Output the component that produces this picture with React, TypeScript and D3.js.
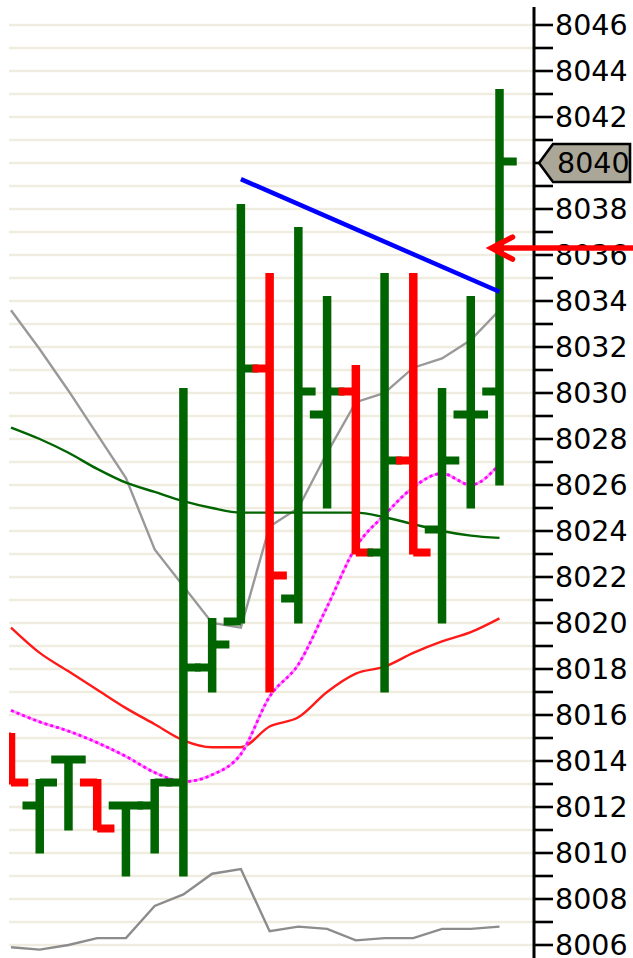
import React from "react";
import * as d3 from "d3";

// OHLC bars, left to right
const opens = [8015, 8012, 8014, 8013, 8012, 8012, 8013, 8018, 8020, 8031, 8021, 8029, 8030, 8023, 8027, 8024, 8029, 8030];
const highs = [8015, 8013, 8014, 8013, 8012, 8013, 8030, 8020, 8038, 8035, 8037, 8034, 8031, 8035, 8035, 8030, 8034, 8043];
const lows = [8013, 8010, 8011, 8011, 8009, 8010, 8009, 8017, 8020, 8017, 8020, 8025, 8023, 8017, 8023, 8020, 8025, 8026];
const closes = [8013, 8013, 8014, 8011, 8012, 8013, 8018, 8019, 8031, 8022, 8030, 8030, 8023, 8027, 8023, 8027, 8029, 8040];

// indicator lines, one value per bar
const grayLine = [8033.6, 8031.9, 8030.1, 8028.2, 8026.3, 8023.2, 8021.6, 8020.0, 8019.8, 8024.2, 8025.0, 8027.4, 8029.6, 8030.0, 8031.1, 8031.5, 8032.3, 8033.6];
const greenLine = [8028.5, 8028.0, 8027.4, 8026.7, 8026.1, 8025.7, 8025.3, 8025.0, 8024.8, 8024.8, 8024.8, 8024.8, 8024.8, 8024.6, 8024.3, 8024.0, 8023.8, 8023.7];
const redLine = [8019.8, 8018.7, 8017.9, 8017.1, 8016.3, 8015.6, 8014.9, 8014.6, 8014.6, 8015.5, 8015.9, 8017.0, 8017.8, 8018.1, 8018.7, 8019.2, 8019.6, 8020.2];
const magentaLine = [8016.2, 8015.7, 8015.3, 8014.8, 8014.2, 8013.5, 8013.1, 8013.4, 8014.3, 8016.8, 8018.2, 8020.7, 8023.3, 8024.7, 8025.9, 8026.5, 8026.0, 8026.9];
const lowerGray = [8005.9, 8005.8, 8006.0, 8006.3, 8006.3, 8007.7, 8008.2, 8009.1, 8009.3, 8006.6, 8006.8, 8006.7, 8006.2, 8006.3, 8006.3, 8006.7, 8006.7, 8006.8];

// drawn trendline (bar index, price) and the arrow level
const trendIdx = [8, 17];
const trendVal = [8039.3, 8034.4];
const arrowLevel = 8036.3;

const W = 633;
const H = 958;
const plotLeft = 9;
const axisX = 534;
const fontSize = 28.5;

const x = d3.scaleLinear().domain([0, closes.length - 1]).range([11, 499.5]);
const y = d3.scaleLinear().domain([8006, 8046]).range([945, 25]);

const GREEN = "#006400";
const RED = "#ff0000";

const mkLine = (curve: d3.CurveFactory) =>
  d3.line<number>().x((_, i) => x(i)).y(d => y(d)).curve(curve);

const App = () => {
  const allTicks = d3.range(8006, 8047);
  const half = 4.25;
  const tickLen = 13;
  const last = closes[closes.length - 1];
  const ly = y(last);
  const ay = y(arrowLevel);
  const tipX = x(closes.length - 1) - 8;

  return (
    <svg width={W} height={H} style={{ position: "absolute", left: 0, top: 0, display: "block", background: "#fff" }}
      fontFamily="'DejaVu Sans', Verdana, sans-serif">
      <defs>
        <clipPath id="plot">
          <rect x={plotLeft} y={0} width={axisX - plotLeft} height={H} />
        </clipPath>
      </defs>

      {/* grid */}
      <g stroke="#f0ede0" strokeWidth={2.6}>
        {allTicks.map(t => (
          <line key={t} x1={plotLeft} x2={axisX} y1={y(t)} y2={y(t)} />
        ))}
      </g>

      <g clipPath="url(#plot)">
        {/* indicator lines */}
        <path d={mkLine(d3.curveLinear)(lowerGray) ?? ""} fill="none" stroke="#8c8c8c" strokeWidth={2.4} />
        <path d={mkLine(d3.curveLinear)(grayLine) ?? ""} fill="none" stroke="#999" strokeWidth={2.4} />
        <path d={mkLine(d3.curveMonotoneX)(greenLine) ?? ""} fill="none" stroke={GREEN} strokeWidth={2.4} />
        <path d={mkLine(d3.curveMonotoneX)(redLine) ?? ""} fill="none" stroke="#ff1a1a" strokeWidth={2.4} />
        <path d={mkLine(d3.curveMonotoneX)(magentaLine) ?? ""} fill="none" stroke="#ff9cff" strokeWidth={2.8} />
        <path d={mkLine(d3.curveMonotoneX)(magentaLine) ?? ""} fill="none" stroke="#ff00ff" strokeWidth={2.8} strokeDasharray="3 3" />

        {/* OHLC bars */}
        {closes.map((c, i) => {
          const cx = x(i);
          const col = c >= opens[i] ? GREEN : RED;
          return (
            <g key={i} fill={col}>
              <rect x={cx - half} width={half * 2} y={y(highs[i]) - 5} height={y(lows[i]) - y(highs[i]) + 5.5} />
              <rect x={cx - half - tickLen} width={tickLen + half} y={y(opens[i]) - 5.5} height={8} />
              <rect x={cx} width={tickLen + half} y={y(c) - 5.5} height={8} />
            </g>
          );
        })}
      </g>

      {/* trendline */}
      <line x1={x(trendIdx[0])} y1={y(trendVal[0])} x2={x(trendIdx[1])} y2={y(trendVal[1])}
        stroke="#0000ff" strokeWidth={4.5} />

      {/* axis */}
      <line x1={axisX} x2={axisX} y1={7} y2={H} stroke="#000" strokeWidth={3} />
      <g stroke="#000" strokeWidth={2.6}>
        {allTicks.map(t => (
          <line key={t} x1={axisX} x2={axisX + 19} y1={y(t)} y2={y(t)} />
        ))}
      </g>
      <g fontSize={fontSize} fill="#000">
        {allTicks.filter(t => t % 2 === 0 && t !== last).map(t => (
          <text key={t} x={axisX + 21} y={y(t) + fontSize * 0.365}>{t}</text>
        ))}
      </g>

      {/* arrow */}
      <g stroke={RED} strokeWidth={5.5} strokeLinecap="round" fill="none">
        <line x1={tipX + 2} y1={ay} x2={W + 5} y2={ay} strokeLinecap="butt" />
        <polyline points={`${tipX + 21},${ay - 11} ${tipX},${ay} ${tipX + 21},${ay + 11}`} strokeLinejoin="miter" />
      </g>

      {/* last price box */}
      <polygon
        points={`${axisX + 5},${ly} ${axisX + 19},${ly - 19} ${W - 3},${ly - 19} ${W - 3},${ly + 19} ${axisX + 19},${ly + 19}`}
        fill="#aaa698" stroke="#000" strokeWidth={2.6} />
      <text x={axisX + 23} y={ly + fontSize * 0.365} fontSize={fontSize} fill="#000">{last}</text>
    </svg>
  );
};

export default App;
